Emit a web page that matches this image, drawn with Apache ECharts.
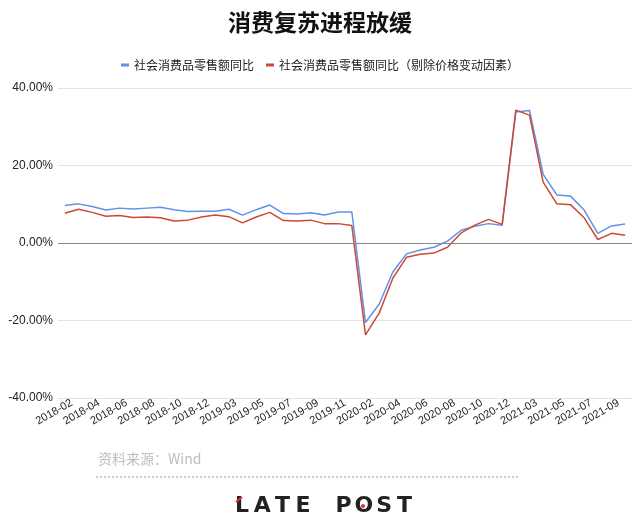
<!DOCTYPE html>
<html><head><meta charset="utf-8">
<script src="https://cdn.jsdelivr.net/npm/echarts@6/dist/echarts.min.js"></script>
<style>html,body{margin:0;padding:0;background:#fff}#c{width:640px;height:523px}</style>
</head><body><div id="c"></div>
<script>
const title = '消费复苏进程放缓';
const seriesNames = ['社会消费品零售额同比', '社会消费品零售额同比（剔除价格变动因素）'];
const categories = [
  '2018-02','2018-03','2018-04','2018-05','2018-06','2018-07','2018-08','2018-09','2018-10','2018-11','2018-12',
  '2019-02','2019-03','2019-04','2019-05','2019-06','2019-07','2019-08','2019-09','2019-10','2019-11','2019-12',
  '2020-02','2020-03','2020-04','2020-05','2020-06','2020-07','2020-08','2020-09','2020-10','2020-11','2020-12',
  '2021-02','2021-03','2021-04','2021-05','2021-06','2021-07','2021-08','2021-09','2021-10'
];
const nominal = [
  9.7,10.1,9.4,8.5,9.0,8.8,9.0,9.2,8.6,8.1,8.2,
  8.2,8.7,7.2,8.6,9.8,7.6,7.5,7.8,7.2,8.0,8.0,
  -20.5,-15.8,-7.5,-2.8,-1.8,-1.1,0.5,3.3,4.3,5.0,4.6,
  33.8,34.2,17.7,12.4,12.1,8.5,2.5,4.4,4.9
];
const real = [
  7.7,8.7,7.9,6.9,7.1,6.6,6.7,6.5,5.7,5.9,6.7,
  7.2,6.8,5.2,6.7,7.9,5.8,5.7,5.9,5.0,5.0,4.5,
  -23.7,-18.1,-9.1,-3.7,-2.9,-2.6,-1.1,2.6,4.6,6.1,4.8,
  34.3,33.0,15.7,10.1,9.9,6.5,0.9,2.5,2.0
];
const yTicks = { min: -40, max: 40, interval: 20 };
const sourceText = '资料来源：Wind';
const brand = 'LATE POST';

const chart = echarts.init(document.getElementById('c'));
const brandGraphics = [];
const bx0 = 242, bstep = 20.3;
brand.split('').forEach((ch, i) => {
  if (ch === ' ') return;
  brandGraphics.push({
    type: 'text', x: bx0 + i * bstep, y: 506,
    style: { text: ch, fill: '#222', font: 'bold 22px "DejaVu Sans", sans-serif', textAlign: 'center', textVerticalAlign: 'middle' }
  });
});
chart.setOption({
  animation: false,
  textStyle: { fontFamily: '"Liberation Sans", Arial, "Noto Sans CJK SC", sans-serif' },
  title: {
    text: title, left: 'center', top: 6,
    textStyle: { fontSize: 23, fontWeight: 'bold', color: '#111', fontFamily: '"Noto Sans CJK SC", sans-serif' }
  },
  legend: {
    top: 54, left: 'center', itemWidth: 8, itemHeight: 3, itemGap: 12, icon: 'rect',
    textStyle: { fontSize: 12, color: '#222', fontFamily: '"Noto Sans CJK SC", sans-serif' },
    data: seriesNames
  },
  grid: { left: 58, right: 8, top: 88, bottom: 125 },
  xAxis: {
    type: 'category', data: categories, boundaryGap: true,
    axisLine: { show: false, onZero: false }, axisTick: { show: false },
    axisLabel: { interval: 1, rotate: 30, fontSize: 11, color: '#222', margin: 8, padding: [0, -8, 0, 0] }
  },
  yAxis: {
    type: 'value', min: yTicks.min, max: yTicks.max, interval: yTicks.interval,
    axisLine: { show: false }, axisTick: { show: false },
    axisLabel: { formatter: v => v.toFixed(2) + '%', fontSize: 12, color: '#222', margin: 5 },
    splitLine: { lineStyle: { color: '#e3e3e3', width: 1 } }
  },
  series: [
    {
      name: seriesNames[0], type: 'line', data: nominal, showSymbol: false, symbol: 'none',
      lineStyle: { width: 1.5, color: '#5f92ea' }, itemStyle: { color: '#5f92ea' }, z: 3,
      markLine: { silent: true, symbol: 'none', label: { show: false },
        lineStyle: { color: '#8a8a8a', type: 'solid', width: 1 }, data: [{ yAxis: 0 }] }
    },
    {
      name: seriesNames[1], type: 'line', data: real, showSymbol: false, symbol: 'none',
      lineStyle: { width: 1.5, color: '#cc4a34' }, itemStyle: { color: '#cc4a34' }, z: 4
    }
  ],
  graphic: [
    { type: 'text', x: 98, y: 459, style: { text: sourceText, fill: '#bdbdbd', font: '14px "Noto Sans CJK SC", sans-serif', textVerticalAlign: 'middle' } },
    { type: 'line', shape: { x1: 96, y1: 477, x2: 519, y2: 477 }, style: { stroke: '#9a9a9a', lineWidth: 1, lineDash: [2, 2] } },
    ...brandGraphics,
    { type: 'line', shape: { x1: 236, y1: 502, x2: 242, y2: 497 }, style: { stroke: '#d33', lineWidth: 2 } },
    { type: 'circle', shape: { cx: 363, cy: 506, r: 2 }, style: { fill: '#d33' } }
  ]
});
</script></body></html>
